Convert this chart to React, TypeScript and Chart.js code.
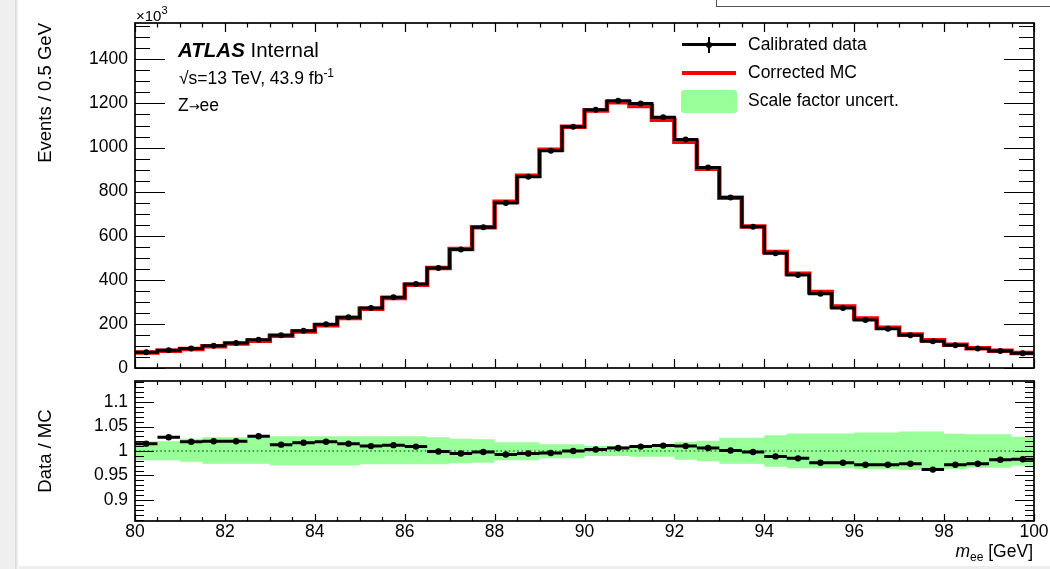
import React, { useEffect, useRef } from 'react';
import { Chart, registerables } from 'chart.js';

Chart.register(...registerables);

// ---------- data ----------
const binEdges = [
  80, 80.5, 81, 81.5, 82, 82.5, 83, 83.5, 84, 84.5, 85, 85.5, 86, 86.5, 87, 87.5, 88, 88.5, 89, 89.5,
  90, 90.5, 91, 91.5, 92, 92.5, 93, 93.5, 94, 94.5, 95, 95.5, 96, 96.5, 97, 97.5, 98, 98.5, 99, 99.5, 100,
];

// Events / 0.5 GeV, in units of 10^3
const dataCounts = [
  71, 80, 88, 101, 113, 128, 148, 169, 198, 230,
  272, 321, 381, 454, 537, 638, 749, 868, 986, 1094,
  1172, 1212, 1200, 1138, 1036, 909, 773, 641, 520, 422,
  337, 272, 218, 178, 148, 121, 103, 88, 77, 67,
];

const mcCounts = [
  70, 78, 86, 99, 111, 124, 146, 166, 194, 227,
  269, 317, 378, 454, 540, 639, 754, 872, 990, 1094,
  1168, 1205, 1189, 1126, 1026, 904, 772, 642, 526, 428,
  345, 279, 224, 183, 152, 126, 106, 90, 78, 68,
];

const ratioValues = [
  1.015, 1.028, 1.019, 1.020, 1.020, 1.030, 1.013, 1.017, 1.019, 1.015,
  1.010, 1.012, 1.009, 0.999, 0.995, 0.998, 0.993, 0.995, 0.996, 1.000,
  1.003, 1.006, 1.009, 1.011, 1.010, 1.006, 1.001, 0.998, 0.989, 0.985,
  0.976, 0.976, 0.972, 0.972, 0.974, 0.962, 0.972, 0.974, 0.982, 0.983,
];

const bandUpper = [
  1.020, 1.020, 1.025, 1.028, 1.028, 1.028, 1.030, 1.030, 1.030, 1.030,
  1.030, 1.030, 1.030, 1.028, 1.025, 1.024, 1.018, 1.018, 1.014, 1.014,
  1.010, 1.010, 1.012, 1.012, 1.019, 1.021, 1.027, 1.027, 1.032, 1.036,
  1.036, 1.036, 1.038, 1.038, 1.040, 1.040, 1.035, 1.034, 1.034, 1.029,
];

const bandLower = [
  0.981, 0.981, 0.978, 0.974, 0.974, 0.974, 0.971, 0.971, 0.971, 0.971,
  0.973, 0.973, 0.973, 0.973, 0.975, 0.976, 0.981, 0.981, 0.985, 0.985,
  0.990, 0.990, 0.988, 0.988, 0.982, 0.979, 0.974, 0.974, 0.968, 0.965,
  0.965, 0.965, 0.963, 0.963, 0.961, 0.961, 0.963, 0.966, 0.966, 0.970,
];

const countTicks = [0, 200, 400, 600, 800, 1000, 1200, 1400];
const ratioTicks = [0.9, 0.95, 1, 1.05, 1.1];
const ratioTickLabels = ['0.9', '0.95', '1', '1.05', '1.1'];
const massTicks = [80, 82, 84, 86, 88, 90, 92, 94, 96, 98, 100];

// ---------- helpers ----------
const FONT = "'Liberation Sans', Arial, Helvetica, sans-serif";
Chart.defaults.font.family = FONT;
Chart.defaults.color = '#000';

const stepPoints = (vals: number[]) =>
  binEdges.map((e, i) => ({ x: e, y: vals[Math.min(i, vals.length - 1)] }));
const centres = binEdges.slice(0, -1).map((e, i) => (e + binEdges[i + 1]) / 2);
const centrePoints = (vals: number[]) => centres.map((c, i) => ({ x: c, y: vals[i] }));
const barPoints = (vals: number[]) =>
  vals.flatMap((v, i) => [
    { x: binEdges[i], y: v },
    { x: binEdges[i + 1], y: v },
    { x: binEdges[i + 1], y: null as any },
  ]);

type TickCfg = {
  xMajor: number; xMinor: number; xMajorLen: number; xMinorLen: number;
  yMajor: number; yMinor: number; yMajorLen: number; yMinorLen: number;
};

function isMultiple(v: number, step: number) {
  const r = v / step;
  return Math.abs(r - Math.round(r)) < 1e-6;
}

function noPad(s: any) {
  s.paddingTop = 0;
  s.paddingBottom = 0;
  s.paddingLeft = 0;
  s.paddingRight = 0;
}

function rootFrame(cfg: TickCfg) {
  return {
    id: 'rootFrame',
    afterDraw(chart: any) {
      const { ctx, chartArea: a, scales } = chart;
      const xs = scales.x;
      const ys = scales.y;
      ctx.save();
      ctx.strokeStyle = '#000';
      ctx.lineWidth = 1.2;
      ctx.beginPath();
      const xk0 = Math.ceil(xs.min / cfg.xMinor - 1e-9);
      const xk1 = Math.floor(xs.max / cfg.xMinor + 1e-9);
      for (let k = xk0; k <= xk1; k++) {
        const v = k * cfg.xMinor;
        const px = Math.round(xs.getPixelForValue(v)) + 0.5;
        const len = isMultiple(v, cfg.xMajor) ? cfg.xMajorLen : cfg.xMinorLen;
        ctx.moveTo(px, a.bottom);
        ctx.lineTo(px, a.bottom - len);
        ctx.moveTo(px, a.top);
        ctx.lineTo(px, a.top + len);
      }
      const yk0 = Math.ceil(ys.min / cfg.yMinor - 1e-9);
      const yk1 = Math.floor(ys.max / cfg.yMinor + 1e-9);
      for (let k = yk0; k <= yk1; k++) {
        const v = k * cfg.yMinor;
        const py = Math.round(ys.getPixelForValue(v)) + 0.5;
        const len = isMultiple(v, cfg.yMajor) ? cfg.yMajorLen : cfg.yMinorLen;
        ctx.moveTo(a.left, py);
        ctx.lineTo(a.left + len, py);
        ctx.moveTo(a.right, py);
        ctx.lineTo(a.right - len, py);
      }
      ctx.stroke();
      ctx.lineWidth = 1.7;
      ctx.strokeRect(a.left, a.top, a.right - a.left, a.bottom - a.top);
      ctx.restore();
    },
  };
}

function topConfig(): any {
  return {
    type: 'line',
    data: {
      datasets: [
        {
          label: 'Corrected MC',
          data: stepPoints(mcCounts),
          stepped: 'before',
          borderColor: '#ff0000',
          borderWidth: 4.5,
          pointRadius: 0,
          fill: false,
          order: 3,
        },
        {
          label: 'Calibrated data (hist)',
          data: stepPoints(dataCounts),
          stepped: 'before',
          borderColor: '#000000',
          borderWidth: 3,
          pointRadius: 0,
          fill: false,
          order: 2,
        },
        {
          label: 'Calibrated data',
          data: centrePoints(dataCounts),
          showLine: false,
          pointRadius: 3,
          pointBackgroundColor: '#000',
          pointBorderWidth: 0,
          order: 1,
        },
      ],
    },
    options: {
      animation: false,
      responsive: false,
      maintainAspectRatio: false,
      devicePixelRatio: 1,
      events: [],
      layout: { padding: { top: 23, right: 16, bottom: 9, left: 0 } },
      plugins: { legend: { display: false }, tooltip: { enabled: false } },
      scales: {
        x: { type: 'linear', min: 80, max: 100, display: false },
        y: {
          type: 'linear',
          min: 0,
          max: 1565,
          afterFit: (s: any) => { s.width = 135; noPad(s); },
          afterBuildTicks: (s: any) => { s.ticks = countTicks.map((v) => ({ value: v })); },
          grid: { display: false, drawTicks: false },
          border: { display: false },
          ticks: { padding: 7, font: { size: 17.5, family: FONT }, color: '#000', callback: (v: any) => String(v) },
          title: {
            display: true,
            text: 'Events / 0.5 GeV',
            align: 'end',
            padding: { top: 35, bottom: 0 },
            font: { size: 18.5, family: FONT },
            color: '#000',
          },
        },
      },
    },
    plugins: [rootFrame({ xMajor: 2, xMinor: 0.5, xMajorLen: 9, xMinorLen: 4.5, yMajor: 200, yMinor: 50, yMajorLen: 30, yMinorLen: 15 })],
  };
}

function bottomConfig(): any {
  return {
    type: 'line',
    data: {
      datasets: [
        {
          label: 'band low',
          data: stepPoints(bandLower),
          stepped: 'before',
          borderWidth: 0,
          borderColor: 'rgba(0,0,0,0)',
          pointRadius: 0,
          fill: false,
          order: 10,
        },
        {
          label: 'Scale factor uncert.',
          data: stepPoints(bandUpper),
          stepped: 'before',
          borderWidth: 0,
          borderColor: 'rgba(0,0,0,0)',
          backgroundColor: '#99ff99',
          pointRadius: 0,
          fill: '-1',
          order: 9,
        },
        {
          label: 'unity',
          data: [{ x: 80, y: 1 }, { x: 100, y: 1 }],
          borderColor: '#1e8c1e',
          borderWidth: 1.6,
          borderDash: [1.6, 2.6],
          pointRadius: 0,
          fill: false,
          order: 5,
        },
        {
          label: 'ratio bars',
          data: barPoints(ratioValues),
          borderColor: '#000',
          borderWidth: 3,
          pointRadius: 0,
          spanGaps: false,
          fill: false,
          order: 2,
        },
        {
          label: 'Data / MC',
          data: centrePoints(ratioValues),
          showLine: false,
          pointRadius: 3.2,
          pointBackgroundColor: '#000',
          pointBorderWidth: 0,
          order: 1,
        },
      ],
    },
    options: {
      animation: false,
      responsive: false,
      maintainAspectRatio: false,
      devicePixelRatio: 1,
      events: [],
      layout: { padding: { top: 2, right: 16, bottom: 0, left: 0 } },
      plugins: { legend: { display: false }, tooltip: { enabled: false } },
      scales: {
        x: {
          type: 'linear',
          min: 80,
          max: 100,
          afterFit: (s: any) => { s.height = 48; noPad(s); },
          afterBuildTicks: (s: any) => { s.ticks = massTicks.map((v) => ({ value: v })); },
          grid: { display: false, drawTicks: false },
          border: { display: false },
          ticks: {
            padding: 1,
            maxRotation: 0,
            autoSkip: false,
            font: { size: 17.5, family: FONT },
            color: '#000',
            callback: (v: any) => String(v),
          },
        },
        y: {
          type: 'linear',
          min: 0.857,
          max: 1.143,
          afterFit: (s: any) => { s.width = 135; noPad(s); },
          afterBuildTicks: (s: any) => { s.ticks = ratioTicks.map((v) => ({ value: v })); },
          grid: { display: false, drawTicks: false },
          border: { display: false },
          ticks: {
            padding: 7,
            font: { size: 17.5, family: FONT },
            color: '#000',
            callback: (_v: any, i: number) => ratioTickLabels[i],
          },
          title: {
            display: true,
            text: 'Data / MC',
            align: 'center',
            padding: { top: 35, bottom: 0 },
            font: { size: 18.5, family: FONT },
            color: '#000',
          },
        },
      },
    },
    plugins: [rootFrame({ xMajor: 2, xMinor: 0.5, xMajorLen: 7, xMinorLen: 4, yMajor: 0.05, yMinor: 0.01, yMajorLen: 19, yMinorLen: 9 })],
  };
}

// text placed by its baseline
function Txt(props: { x?: number; right?: number; y: number; size: number; children: any; style?: any }) {
  const { x, right, y, size, children, style } = props;
  const pos: any = { position: 'absolute', top: y - 0.8465 * size, fontSize: size, lineHeight: `${size}px`, whiteSpace: 'nowrap' };
  if (x !== undefined) pos.left = x;
  if (right !== undefined) { pos.right = right; pos.textAlign = 'right'; }
  return <div style={{ ...pos, ...style }}>{children}</div>;
}

export default function App() {
  const topRef = useRef<HTMLCanvasElement>(null);
  const botRef = useRef<HTMLCanvasElement>(null);

  useEffect(() => {
    const top = new Chart(topRef.current as HTMLCanvasElement, topConfig());
    const bot = new Chart(botRef.current as HTMLCanvasElement, bottomConfig());
    return () => {
      top.destroy();
      bot.destroy();
    };
  }, []);

  return (
    <div
      style={{
        position: 'fixed', left: 0, top: 0, width: 1050, height: 569, overflow: 'hidden',
        background: '#fff', fontFamily: FONT, color: '#000',
      }}
    >
      {/* surrounding window decoration */}
      <div style={{ position: 'absolute', left: 0, top: 0, width: 15, height: 569, background: '#efefef' }} />
      <div style={{ position: 'absolute', left: 15, top: 0, width: 4, height: 569, background: 'linear-gradient(to right, #d6d6d6, #ffffff)' }} />
      <div style={{ position: 'absolute', left: 19, top: 566, width: 1031, height: 3, background: '#eeeeee' }} />
      <div style={{ position: 'absolute', left: 716, top: -10, width: 340, height: 15, border: '1px solid #555', background: '#fff' }} />

      <canvas ref={topRef} width={1050} height={377} style={{ position: 'absolute', left: 0, top: 0, width: 1050, height: 377 }} />
      <canvas ref={botRef} width={1050} height={192} style={{ position: 'absolute', left: 0, top: 377, width: 1050, height: 192 }} />

      {/* axis multiplier */}
      <Txt x={136} y={21} size={15}>
        ×10<span style={{ fontSize: 11, position: 'relative', top: -7 }}>3</span>
      </Txt>

      {/* ATLAS label */}
      <Txt x={178} y={57} size={20.5}>
        <span style={{ fontWeight: 'bold', fontStyle: 'italic' }}>ATLAS</span> Internal
      </Txt>
      <Txt x={179} y={85} size={17.5}>
        √s=13 TeV, 43.9 fb<span style={{ fontSize: 12, position: 'relative', top: -7 }}>-1</span>
      </Txt>
      <Txt x={178} y={112} size={17.5}>
        Z<span style={{ fontFamily: "'DejaVu Sans', sans-serif", fontSize: 13 }}>→</span>ee
      </Txt>

      {/* legend */}
      <div style={{ position: 'absolute', left: 682, top: 43, width: 54, height: 3, background: '#000' }} />
      <div style={{ position: 'absolute', left: 707.5, top: 37, width: 2.5, height: 16, background: '#000' }} />
      <div style={{ position: 'absolute', left: 705.7, top: 41.5, width: 6, height: 6, borderRadius: 3, background: '#000' }} />
      <Txt x={748} y={50.5} size={17.5}>Calibrated data</Txt>

      <div style={{ position: 'absolute', left: 682, top: 70.5, width: 54, height: 4, background: '#ff0000' }} />
      <Txt x={748} y={79} size={17.5}>Corrected MC</Txt>

      <div style={{ position: 'absolute', left: 681, top: 90, width: 56, height: 22.5, borderRadius: 3, background: '#99ff99' }} />
      <Txt x={748} y={107.3} size={17.5}>Scale factor uncert.</Txt>

      {/* x axis title */}
      <Txt right={17} y={558} size={17.5}>
        <span style={{ fontStyle: 'italic' }}>m</span>
        <span style={{ fontSize: 12, position: 'relative', top: 4 }}>ee</span> [GeV]
      </Txt>
    </div>
  );
}
